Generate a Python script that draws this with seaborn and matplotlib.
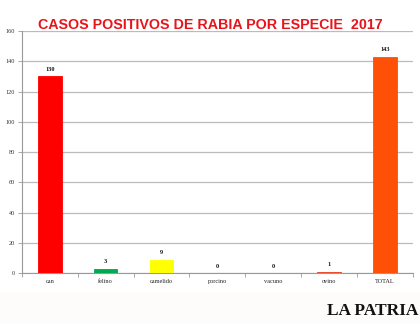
import matplotlib
matplotlib.use("Agg")
import matplotlib.pyplot as plt
from matplotlib.patches import Rectangle
import seaborn as sns
import pandas as pd

especies = ["can", "felino", "camelido", "porcino", "vacuno", "ovino", "TOTAL"]
casos = [130, 3, 9, 0, 0, 1, 143]
colores = ["#FF0000", "#00A84F", "#FFFF00", "#FF0000", "#FF0000", "#E8401C", "#FF5008"]
y_ticks = [0, 20, 40, 60, 80, 100, 120, 140, 160]

sns.set_theme(style="white")
plt.rcParams["font.family"] = ["Liberation Serif", "DejaVu Serif"]

df = pd.DataFrame({"especie": especies, "casos": casos})

fig = plt.figure(figsize=(4.2, 3.24), dpi=100)
# faint band at the bottom of the page
fig.patches.append(Rectangle((0, 0), 1, 0.1, transform=fig.transFigure,
                             facecolor="#FEFBFB", edgecolor="none", zorder=0))
ax = fig.add_axes([0.052, 0.157, 0.931, 0.747])

sns.barplot(data=df, x="especie", y="casos", hue="especie", palette=colores,
            legend=False, width=0.42, saturation=1, ax=ax, zorder=3,
            linewidth=0.6)
for patch, c in zip(ax.patches, colores):
    patch.set_edgecolor(c)
    patch.set_zorder(5)

ax.set_ylim(0, 160)
ax.set_xlim(-0.5, 6.5)
ax.set_yticks(y_ticks)
ax.set_yticklabels([str(t) for t in y_ticks], fontsize=4.5, color="#333333")
ax.set_xticks(range(len(especies)))
ax.set_xticklabels(especies, fontsize=4.5, color="#222222")
ax.tick_params(axis="x", length=0, pad=4)
ax.tick_params(axis="y", length=3, width=0.6, color="#999999", pad=2, left=True)
ax.set_xticks([i + 0.5 for i in range(-1, len(especies))], minor=True)
ax.tick_params(axis="x", which="minor", length=3, width=0.6, color="#999999", bottom=True)

ax.set_xlabel("")
ax.set_ylabel("")
ax.grid(axis="y", color="#BBBBBB", linewidth=0.9, zorder=0)
for s in ["top", "right"]:
    ax.spines[s].set_visible(False)
ax.spines["left"].set_color("#999999")
ax.spines["left"].set_linewidth(0.8)
ax.spines["bottom"].set_color("#999999")
ax.spines["bottom"].set_linewidth(0.8)

for i, v in enumerate(casos):
    ax.text(i, v + 3, str(v), ha="center", va="bottom", fontsize=4.5,
            fontweight="bold", color="#111111", zorder=6)

fig.text(0.5, 0.912, "CASOS POSITIVOS DE RABIA POR ESPECIE  2017",
         ha="center", va="baseline", fontsize=10.3, fontweight="bold",
         color="#E8141B", family=["Liberation Sans", "DejaVu Sans"])

fig.text(0.995, 0.028, "LA PATRIA", ha="right", va="baseline", fontsize=12.5,
         fontweight="bold", color="#111111", family=["Liberation Serif", "DejaVu Serif"])

fig.savefig("out.png", dpi=100, facecolor="white")
